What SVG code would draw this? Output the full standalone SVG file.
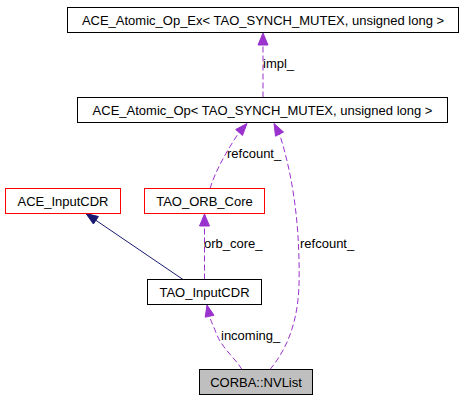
<svg xmlns="http://www.w3.org/2000/svg" width="464" height="400" viewBox="0 0 464 400">
<style>
text{font-family:"Liberation Sans",Arial,sans-serif;font-size:13px;fill:#000}
.nt{text-anchor:middle}
.box{fill:#fff;stroke:#000;stroke-width:1}
.red{fill:#fff;stroke:#ff0000;stroke-width:1}
.cur{fill:#bfbfbf;stroke:#000;stroke-width:1}
.dash{fill:none;stroke:#9a32cd;stroke-width:1;stroke-dasharray:6,3}
.solid{fill:none;stroke:#191970;stroke-width:1}
.ph{fill:#9a32cd;stroke:#9a32cd}
.nh{fill:#191970;stroke:#191970}
</style>
<rect width="464" height="400" fill="#fff"/>
<g id="connectors">
<g id="e_impl">
<path class="dash" d="M263,97.5 L263,45"/>
<polygon class="ph" points="263,33 258,45 268,45"/>
<text x="263" y="68">impl_</text>
</g>
<g id="e_refcount1">
<path class="dash" d="M210,188.5 C215,172 226,152 239,132.5"/>
<polygon class="ph" points="247,123.5 242.5,135.5 235.7,129.5"/>
<text x="227" y="158">refcount_</text>
</g>
<g id="e_refcount2">
<path class="dash" d="M270,369.5 C288,348 298,320 299,285 C300,240 296,185 279.5,134"/>
<polygon class="ph" points="274,123.5 283.5,132 275.5,136.2"/>
<text x="300" y="248">refcount_</text>
</g>
<g id="e_inherit">
<path class="solid" d="M183,279.5 L95.9,220.3"/>
<polygon class="nh" points="86,213.5 98.4,216.5 93.4,224"/>
</g>
<g id="e_orbcore">
<path class="dash" d="M204.5,279.5 L204.5,226"/>
<polygon class="ph" points="204.5,214 199.5,226 209.5,226"/>
<text x="204" y="248">orb_core_</text>
</g>
<g id="e_incoming">
<path class="dash" d="M242,369.5 C235,358 222,348 217,335 C213,325 210,319 209.6,316.2"/>
<polygon class="ph" points="207,305 214,315.2 205.2,317.2"/>
<text x="221" y="340">incoming_</text>
</g>
</g>
<g id="n_atomic_op_ex">
<rect class="box" x="67.5" y="7.5" width="391" height="25"/>
<text class="nt" x="263" y="24.5">ACE_Atomic_Op_Ex&lt; TAO_SYNCH_MUTEX, unsigned long &gt;</text>
</g>
<g id="n_atomic_op">
<rect class="box" x="77.5" y="97.5" width="370" height="25"/>
<text class="nt" x="262.5" y="114.5">ACE_Atomic_Op&lt; TAO_SYNCH_MUTEX, unsigned long &gt;</text>
</g>
<g id="n_ace_inputcdr">
<rect class="red" x="5.5" y="188.5" width="115" height="25"/>
<text class="nt" x="63" y="205.5">ACE_InputCDR</text>
</g>
<g id="n_tao_orb_core">
<rect class="red" x="144.5" y="188.5" width="120" height="25"/>
<text class="nt" x="204.5" y="205.5">TAO_ORB_Core</text>
</g>
<g id="n_tao_inputcdr">
<rect class="box" x="147.5" y="279.5" width="114" height="25"/>
<text class="nt" x="204.5" y="296.5">TAO_InputCDR</text>
</g>
<g id="n_nvlist">
<rect class="cur" x="199.5" y="369.5" width="113" height="25"/>
<text class="nt" x="256" y="386.5">CORBA::NVList</text>
</g>
</svg>
